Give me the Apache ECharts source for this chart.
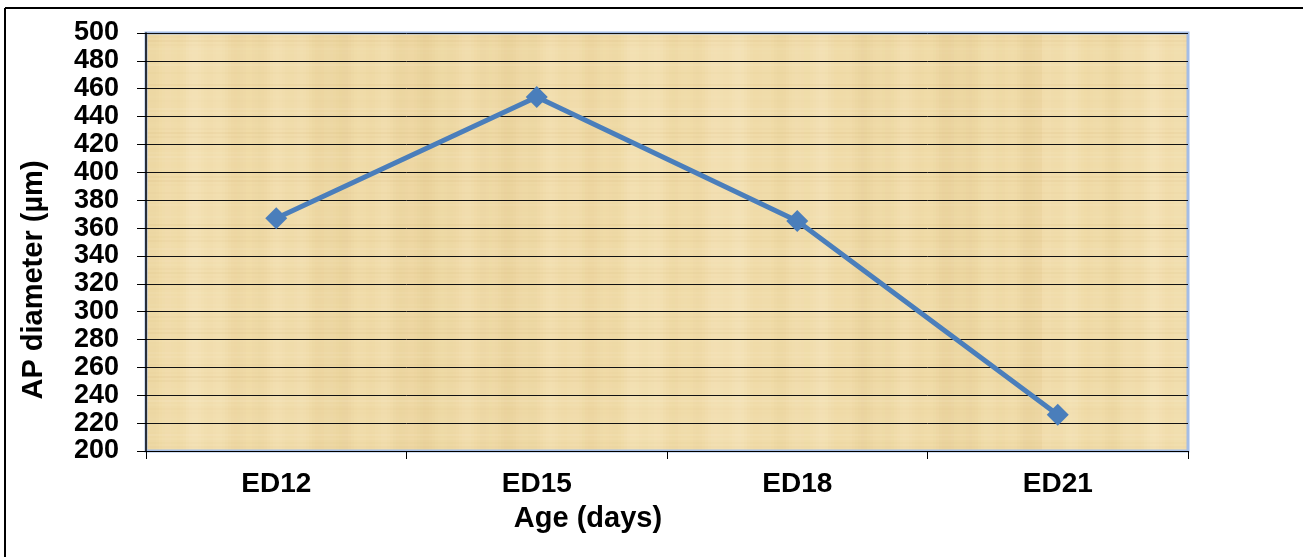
<!DOCTYPE html>
<html>
<head>
<meta charset="utf-8">
<script src="https://cdn.jsdelivr.net/npm/echarts@6/dist/echarts.min.js"></script>
<style>
html,body{margin:0;padding:0;background:#fff;}
#chart{width:1303px;height:557px;}
</style>
</head>
<body>
<div id="chart"></div>
<script>
const categories = ['ED12', 'ED15', 'ED18', 'ED21'];
const apDiameter = [367, 454, 365, 226];
const yTicks = {min: 200, max: 500, interval: 20};

// papyrus-like texture for the plot area (decorative)
function papyrus() {
  const c = document.createElement('canvas');
  c.width = 1042; c.height = 418;
  const g = c.getContext('2d');
  g.fillStyle = '#F0DBA8';
  g.fillRect(0, 0, c.width, c.height);
  for (let x = 0; x < c.width; x += 3) {
    const v = Math.sin(x * 0.071) * 0.5 + Math.sin(x * 0.23 + 1.3) * 0.3 + Math.sin(x * 0.011) * 0.4;
    g.fillStyle = v > 0 ? 'rgba(255,246,225,' + (0.22 * v).toFixed(3) + ')' : 'rgba(200,165,90,' + (-0.13 * v).toFixed(3) + ')';
    g.fillRect(x, 0, 3, c.height);
  }
  for (let y = 0; y < c.height; y += 4) {
    const v = Math.sin(y * 0.13) * 0.5 + Math.sin(y * 0.41 + 0.7) * 0.4;
    g.fillStyle = v > 0 ? 'rgba(255,248,228,' + (0.14 * v).toFixed(3) + ')' : 'rgba(190,150,75,' + (-0.09 * v).toFixed(3) + ')';
    g.fillRect(0, y, c.width, 2);
  }
  return c;
}

const chart = echarts.init(document.getElementById('chart'));
chart.setOption({
  animation: false,
  backgroundColor: '#ffffff',
  grid: {
    left: 146, right: 115, top: 33, bottom: 106,
    show: true,
    backgroundColor: {image: papyrus(), repeat: 'repeat'},
    borderColor: '#A4BDE6',
    borderWidth: 3
  },
  graphic: [
    {type: 'line', shape: {x1: 5, y1: 8, x2: 1303, y2: 8}, style: {stroke: '#000', lineWidth: 2}, z: 10},
    {type: 'line', shape: {x1: 5, y1: 8, x2: 5, y2: 557}, style: {stroke: '#000', lineWidth: 2}, z: 10}
  ],
  xAxis: {
    type: 'category',
    data: categories,
    boundaryGap: true,
    name: 'Age (days)',
    nameLocation: 'middle',
    nameGap: 53,
    nameTextStyle: {fontFamily: 'Liberation Sans, Arial', fontWeight: 'bold', fontSize: 29, color: '#000', padding: [0, 158, 0, 0]},
    axisLine: {lineStyle: {color: '#000', width: 1}},
    axisTick: {show: true, alignWithLabel: false, length: 8, lineStyle: {color: '#000'}},
    axisLabel: {fontFamily: 'Liberation Sans, Arial', fontWeight: 'bold', fontSize: 28, color: '#000', margin: 19},
    splitLine: {show: false}
  },
  yAxis: {
    type: 'value',
    min: yTicks.min, max: yTicks.max, interval: yTicks.interval,
    name: 'AP diameter (µm)',
    nameLocation: 'middle',
    nameGap: 98,
    nameTextStyle: {fontFamily: 'Liberation Sans, Arial', fontWeight: 'bold', fontSize: 29, color: '#000', padding: [0, 76, 0, 0]},
    axisLine: {show: true, lineStyle: {color: '#000', width: 1.5}},
    axisTick: {show: true, length: 9, lineStyle: {color: '#000'}},
    axisLabel: {fontFamily: 'Liberation Sans, Arial', fontWeight: 'bold', fontSize: 27, color: '#000', margin: 27},
    splitLine: {show: true, lineStyle: {color: '#111', width: 1}}
  },
  series: [{
    type: 'line',
    data: apDiameter,
    symbol: 'diamond',
    symbolSize: 22,
    itemStyle: {color: '#4A7EBB'},
    lineStyle: {color: '#4A7EBB', width: 5},
    z: 5
  }]
});
</script>
</body>
</html>
